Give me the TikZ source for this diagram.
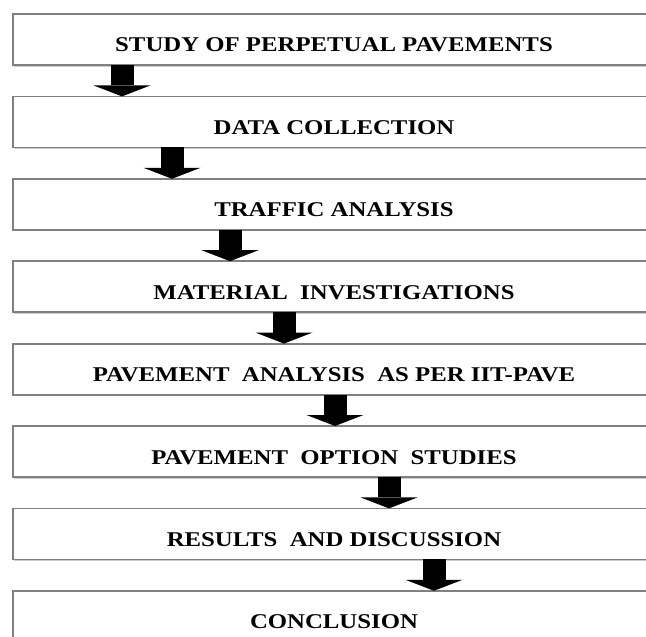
\documentclass[tikz,border=0pt]{standalone}
\usepackage{fontspec}
\setmainfont{Liberation Serif}
\newfontfamily\stagefont[FakeStretch=1.18]{Liberation Serif}
\usetikzlibrary{positioning,arrows.meta,shadows}
\tikzset{
  stage/.style={rectangle, draw=black!50, line width=1.8pt, fill=white,
    minimum width=642pt, minimum height=51pt, inner sep=0pt, outer sep=0pt,
    text height=25pt, text depth=0pt,
    font=\stagefont\fontsize{21}{25}\selectfont\bfseries,
    drop shadow={shadow xshift=1.2pt, shadow yshift=-1.5pt, fill=black!20, opacity=1}},
  flow/.style={line width=23pt, -{Triangle[width=57pt, length=11pt, line width=0pt]}}
}
\begin{document}
\begin{tikzpicture}
  \useasboundingbox (0,0) rectangle (646pt,-637pt);

  % stages
  \node[stage, anchor=north west] (study) at (13pt,-14pt) {STUDY OF PERPETUAL PAVEMENTS};
  \node[stage, below=31.4pt of study] (data) {DATA COLLECTION};
  \node[stage, below=31.4pt of data] (traffic) {TRAFFIC ANALYSIS};
  \node[stage, below=31.4pt of traffic] (material) {MATERIAL\ \ INVESTIGATIONS};
  \node[stage, below=31.4pt of material] (analysis) {PAVEMENT\ \ ANALYSIS\ \ AS PER IIT-PAVE};
  \node[stage, below=31.4pt of analysis] (option) {PAVEMENT\ \ OPTION\ \ STUDIES};
  \node[stage, below=31.4pt of option] (results) {RESULTS\ \ AND DISCUSSION};
  \node[stage, below=31.4pt of results] (conclusion) {CONCLUSION};

  % block arrows
  \draw[flow] ([xshift=109pt]study.south west) -- ([xshift=109pt]data.north west);
  \draw[flow] ([xshift=159pt]data.south west) -- ([xshift=159pt]traffic.north west);
  \draw[flow] ([xshift=217pt]traffic.south west) -- ([xshift=217pt]material.north west);
  \draw[flow] ([xshift=271pt]material.south west) -- ([xshift=271pt]analysis.north west);
  \draw[flow] ([xshift=322pt]analysis.south west) -- ([xshift=322pt]option.north west);
  \draw[flow] ([xshift=376pt]option.south west) -- ([xshift=376pt]results.north west);
  \draw[flow] ([xshift=421pt]results.south west) -- ([xshift=421pt]conclusion.north west);
\end{tikzpicture}
\end{document}
